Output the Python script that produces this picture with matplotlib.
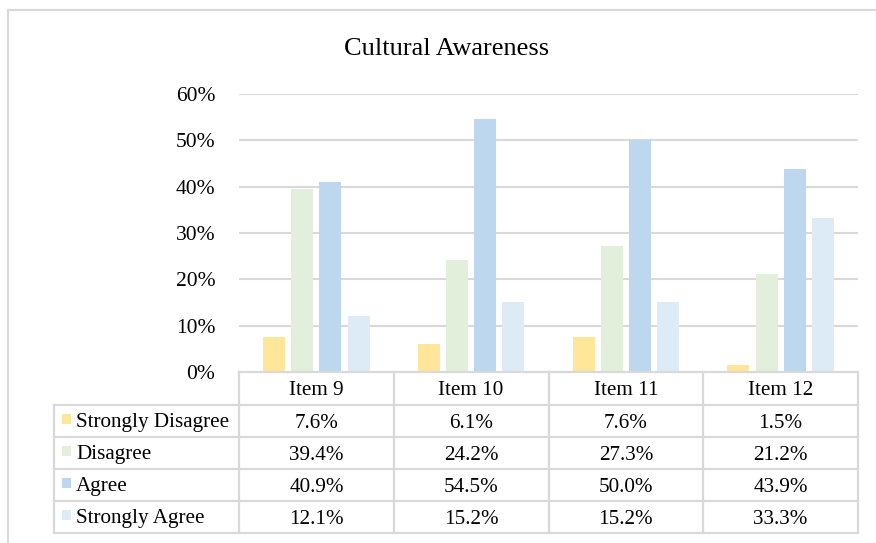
import matplotlib
matplotlib.use("Agg")
import matplotlib.pyplot as plt
from matplotlib.lines import Line2D
from matplotlib.patches import Rectangle

plt.rcParams['font.family'] = ['Liberation Serif', 'DejaVu Serif']

categories = ["Item 9", "Item 10", "Item 11", "Item 12"]
series_names = ["Strongly Disagree", "Disagree", "Agree", "Strongly Agree"]
strongly_disagree = [7.6, 6.1, 7.6, 1.5]
disagree = [39.4, 24.2, 27.3, 21.2]
agree = [40.9, 54.5, 50.0, 43.9]
strongly_agree = [12.1, 15.2, 15.2, 33.3]
y_ticks = [0, 10, 20, 30, 40, 50, 60]
title = "Cultural Awareness"

series = [strongly_disagree, disagree, agree, strongly_agree]
colors = ["#FFE699", "#E2EFDA", "#BDD7EE", "#DDEBF7"]
grid_col = "#D9D9D9"

W, H = 876, 543
fig = plt.figure(figsize=(W / 100, H / 100), dpi=100)

def fx(px):
    return px / W

def fy(py):
    return 1 - py / H

# outer chart border
fig.add_artist(Line2D([fx(8), fx(8)], [fy(10), fy(560)], color=grid_col, lw=1.5))
fig.add_artist(Line2D([fx(8), fx(900)], [fy(10), fy(10)], color=grid_col, lw=1.5))

x0, x1 = 239, 858
y0, y1 = 372, 94
ax = fig.add_axes([fx(x0), fy(y0), fx(x1) - fx(x0), fy(y1) - fy(y0)])
ax.set_xlim(0, len(categories))
ax.set_ylim(0, 60)
for s in ax.spines.values():
    s.set_visible(False)
ax.set_xticks([])
ax.set_yticks(y_ticks)
ax.set_yticklabels([f"{t}%" for t in y_ticks], fontsize=15.5)
ax.tick_params(axis='y', length=0, pad=17)
for t in y_ticks[1:]:
    ax.axhline(t, color=grid_col, lw=1.5, zorder=0)

width = 0.142
spacing = 0.182
for k, vals in enumerate(series):
    xs = [i + 0.5 + (k - 1.5) * spacing for i in range(len(categories))]
    ax.bar(xs, vals, width=width, color=colors[k], zorder=2)

fig.text(fx(447), fy(55), title, ha='center', va='baseline', fontsize=19)

# data table
col_edges = [239, 393.75, 548.5, 703.25, 858]
row_edges = [372, 405, 437, 469, 501, 533]
tl = 54
lw = 1.6
fig.add_artist(Line2D([fx(x0), fx(x1)], [fy(row_edges[0])] * 2, color=grid_col, lw=lw))
for r in row_edges[1:]:
    fig.add_artist(Line2D([fx(tl), fx(x1)], [fy(r)] * 2, color=grid_col, lw=lw))
for c in col_edges:
    fig.add_artist(Line2D([fx(c)] * 2, [fy(row_edges[0]), fy(row_edges[-1])], color=grid_col, lw=lw))
fig.add_artist(Line2D([fx(tl)] * 2, [fy(row_edges[1]), fy(row_edges[-1])], color=grid_col, lw=lw))

fs = 15.2
boff = 6.5
for i, cat in enumerate(categories):
    cx = (col_edges[i] + col_edges[i + 1]) / 2
    cy = (row_edges[0] + row_edges[1]) / 2
    fig.text(fx(cx), fy(cy + boff), cat, ha='center', va='baseline', fontsize=fs)
for k, (name, vals) in enumerate(zip(series_names, series)):
    cy = (row_edges[k + 1] + row_edges[k + 2]) / 2
    fig.add_artist(Rectangle((fx(62), fy(cy + 3)), fx(9), fy(0) - fy(10),
                             facecolor=colors[k], edgecolor='none'))
    fig.text(fx(76), fy(cy + boff), name, ha='left', va='baseline', fontsize=fs)
    for i, v in enumerate(vals):
        cx = (col_edges[i] + col_edges[i + 1]) / 2
        fig.text(fx(cx), fy(cy + boff), f"{v:.1f}%", ha='center', va='baseline', fontsize=fs)

fig.savefig("out.png", dpi=100)
